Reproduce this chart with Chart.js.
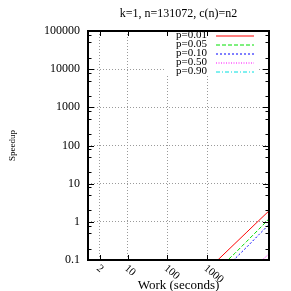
<!DOCTYPE html>
<html>
<head>
<meta charset="utf-8">
<script src="https://cdn.jsdelivr.net/npm/chart.js@4.4.1/dist/chart.umd.min.js"></script>
<style>
  html, body { margin: 0; padding: 0; background: #fff; }
  #wrap { width: 291px; height: 291px; }
</style>
</head>
<body>
<div id="wrap"><canvas id="chart" width="291" height="291"></canvas></div>
<script>
// ── Datos (log-log) ───────────────────────────────────────────────────────
const WORK        = [1000, 2000, 5000, 10000, 20000, 36000]
const SPEEDUP_001 = [0.054, 0.108, 0.27, 0.54, 1.08, 1.94]
const SPEEDUP_005 = [0.03, 0.061, 0.15, 0.31, 0.64, 1.2]
const SPEEDUP_010 = [0.021, 0.043, 0.108, 0.22, 0.46, 0.85]
const SPEEDUP_050 = [0.004, 0.008, 0.02, 0.04, 0.082, 0.145]
const SPEEDUP_090 = [0.0005, 0.001, 0.0025, 0.005, 0.01, 0.018]

const SERIES_LABELS = ["p=0.01", "p=0.05", "p=0.10", "p=0.50", "p=0.90"]

// ── Ejes ──────────────────────────────────────────────────────────────────
const X_TICKS  = [2, 10, 100, 1000]
const X_LABELS = ["2", "10", "100", "1000"]
const Y_TICKS  = [0.1, 1, 10, 100, 1000, 10000, 100000]
const Y_LABELS = ["0.1", "1", "10", "100", "1000", "10000", "100000"]
const Y_MINOR  = [2, 5, 8]

const FONT = "'Liberation Serif', 'Times New Roman', serif"

Chart.defaults.font.family = FONT
Chart.defaults.color = "#000"

// Leyenda dentro del área del gráfico, con fondo blanco (estilo gnuplot)
const keyBox = {
  id: "keyBox",
  afterDatasetsDraw(chart) {
    const { ctx, chartArea: a } = chart
    ctx.save()
    ctx.fillStyle = "#fff"
    ctx.fillRect(a.left + 77, a.top + 1, 93, 44)
    ctx.font = "11px " + FONT
    ctx.textAlign = "right"
    ctx.textBaseline = "middle"
    chart.data.datasets.forEach((ds, i) => {
      const y = a.top + 4.5 + i * 9
      ctx.fillStyle = "#000"
      ctx.fillText(ds.label, a.right - 62, y)
      ctx.strokeStyle = ds.borderColor
      ctx.lineWidth = ds.borderWidth
      ctx.setLineDash(ds.borderDash || [])
      ctx.beginPath()
      ctx.moveTo(a.right - 53, y + 0.5)
      ctx.lineTo(a.right - 15, y + 0.5)
      ctx.stroke()
    })
    ctx.restore()
  }
}

// Marco, marcas hacia dentro y etiquetas del eje X giradas
const frame = {
  id: "frame",
  afterDraw(chart) {
    const { ctx, chartArea: a, scales } = chart
    const xs = scales.x, ys = scales.y
    ctx.save()
    ctx.strokeStyle = "#000"
    ctx.lineWidth = 1
    ctx.beginPath()
    Y_TICKS.forEach((v, i) => {
      const y = Math.round(ys.getPixelForValue(v)) + 0.5
      ctx.moveTo(a.left, y);  ctx.lineTo(a.left + 6, y)
      ctx.moveTo(a.right, y); ctx.lineTo(a.right - 6, y)
      if (i === Y_TICKS.length - 1) return
      Y_MINOR.forEach(m => {
        const ym = Math.round(ys.getPixelForValue(v * m)) + 0.5
        ctx.moveTo(a.left, ym);  ctx.lineTo(a.left + 3.5, ym)
        ctx.moveTo(a.right, ym); ctx.lineTo(a.right - 3.5, ym)
      })
    })
    X_TICKS.forEach(v => {
      const x = Math.round(xs.getPixelForValue(v)) + 0.5
      ctx.moveTo(x, a.bottom); ctx.lineTo(x, a.bottom - 5)
      ctx.moveTo(x, a.top);    ctx.lineTo(x, a.top + 5)
    })
    ctx.stroke()

    ctx.lineWidth = 2
    ctx.strokeRect(a.left, a.top, a.right - a.left, a.bottom - a.top)

    ctx.fillStyle = "#000"
    ctx.font = "11px " + FONT
    ctx.textAlign = "left"
    ctx.textBaseline = "middle"
    X_TICKS.forEach((v, i) => {
      const x = xs.getPixelForValue(v)
      ctx.save()
      ctx.translate(x - 2, a.bottom + 7)
      ctx.rotate(Math.PI * 0.22)
      ctx.fillText(X_LABELS[i], 0, 0)
      ctx.restore()
    })
    ctx.restore()
  }
}

const mk = (label, values, color, dash) => ({
  label,
  data: WORK.map((w, i) => ({ x: w, y: values[i] })),
  borderColor: color,
  borderWidth: 1,
  borderDash: dash,
  pointRadius: 0,
  fill: false,
  tension: 0
})

const gridOpts = { color: "#9a9a9a", drawTicks: false, lineWidth: 1 }
const borderOpts = { display: false, dash: [1, 2] }

new Chart(document.getElementById("chart"), {
  type: "line",
  data: {
    datasets: [
      mk(SERIES_LABELS[0], SPEEDUP_001, "#ff0000", []),
      mk(SERIES_LABELS[1], SPEEDUP_005, "#00e000", [4, 2]),
      mk(SERIES_LABELS[2], SPEEDUP_010, "#0000ff", [2, 2]),
      mk(SERIES_LABELS[3], SPEEDUP_050, "#ff00ff", [1, 1.5]),
      mk(SERIES_LABELS[4], SPEEDUP_090, "#00e0e0", [4, 2, 1, 2])
    ]
  },
  options: {
    responsive: false,
    animation: false,
    layout: { padding: { left: 0, right: 22, top: 0, bottom: 0 } },
    plugins: {
      legend: { display: false },
      tooltip: { enabled: false },
      title: {
        display: true,
        text: "k=1, n=131072, c(n)=n2",
        fullSize: false,
        color: "#000",
        font: { size: 12, weight: "normal" },
        padding: { top: 7, bottom: 9.6 }
      }
    },
    scales: {
      x: {
        type: "logarithmic",
        min: 1,
        max: 36000,
        bounds: "data",
        afterBuildTicks: s => { s.ticks = X_TICKS.map(v => ({ value: v })) },
        afterFit: s => { s.height = 31 },
        ticks: { display: false },
        grid: gridOpts,
        border: borderOpts,
        title: {
          display: true,
          text: "Work (seconds)",
          font: { size: 13, lineHeight: 0.77 },
          padding: { top: 0, bottom: 0 }
        }
      },
      y: {
        type: "logarithmic",
        min: 0.1,
        max: 100000,
        bounds: "data",
        afterBuildTicks: s => { s.ticks = Y_TICKS.map(v => ({ value: v })) },
        afterFit: s => { s.width = 88 },
        ticks: {
          padding: 8,
          font: { size: 12 },
          callback: (v, i) => Y_LABELS[i]
        },
        grid: gridOpts,
        border: borderOpts,
        title: {
          display: true,
          text: "Speedup",
          font: { size: 9 },
          padding: { top: 7.6, bottom: 0 }
        }
      }
    }
  },
  plugins: [keyBox, frame]
})
</script>
</body>
</html>
